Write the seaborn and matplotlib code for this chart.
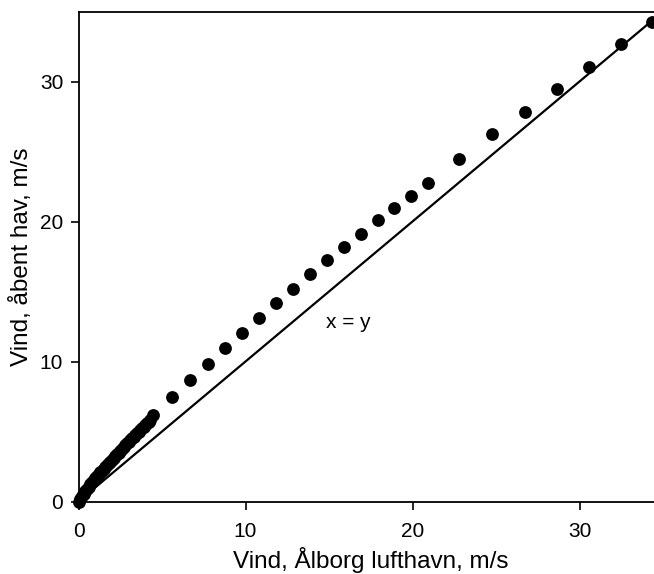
import matplotlib
matplotlib.use("Agg")
import matplotlib.pyplot as plt
import seaborn as sns
import pandas as pd

# Wind at Aalborg airport (x) vs open sea (y), m/s
wind_airport = [0.0, 0.1, 0.2, 0.3, 0.4, 0.5, 0.6, 0.7, 0.8, 0.9, 1.0, 1.1, 1.2, 1.3, 1.4,
                1.5, 1.6, 1.7, 1.8, 1.9, 2.0, 2.1, 2.2, 2.3, 2.4, 2.5, 2.6, 2.7, 2.8, 2.9,
                3.0, 3.1, 3.2, 3.3, 3.4, 3.5, 3.6, 3.7, 3.8, 3.9, 4.0, 4.1, 4.2, 4.3,
                4.46, 5.6, 6.68, 7.75, 8.77, 9.79, 10.81, 11.83, 12.84, 13.86, 14.88,
                15.90, 16.92, 17.93, 18.89, 19.91, 20.93, 22.78, 24.75, 26.73, 28.65,
                30.57, 32.48, 34.34]
wind_sea = [0.0, 0.2, 0.38, 0.55, 0.72, 0.89, 1.05, 1.22, 1.38, 1.55, 1.69, 1.82, 1.95, 2.08, 2.21,
            2.34, 2.47, 2.60, 2.73, 2.85, 2.98, 3.11, 3.24, 3.37, 3.50, 3.63, 3.76, 3.89, 4.02, 4.15,
            4.27, 4.39, 4.51, 4.63, 4.75, 4.87, 4.99, 5.11, 5.23, 5.35, 5.47, 5.59, 5.71, 5.83,
            6.18, 7.46, 8.68, 9.82, 10.96, 12.04, 13.1, 14.18, 15.18, 16.25, 17.25,
            18.18, 19.1, 20.1, 20.96, 21.82, 22.75, 24.46, 26.25, 27.82, 29.46,
            31.04, 32.68, 34.25]

line_x = [0, 36]
line_y = [0, 36]

x_ticks = [0, 10, 20, 30]
y_ticks = [0, 10, 20, 30]

sns.set_style("ticks")
plt.rcParams['font.family'] = ['Liberation Sans', 'DejaVu Sans']
plt.rcParams['text.color'] = 'black'
plt.rcParams['axes.labelcolor'] = 'black'
plt.rcParams['xtick.color'] = 'black'
plt.rcParams['ytick.color'] = 'black'

fig = plt.figure(figsize=(6.54, 5.74), dpi=100)
ax = fig.add_axes([78.5 / 654, 72.5 / 574, 584.5 / 654, 490 / 574])

df_pts = pd.DataFrame({"x": wind_airport, "y": wind_sea})
df_line = pd.DataFrame({"x": line_x, "y": line_y})

sns.lineplot(data=df_line, x="x", y="y", ax=ax, color="black", linewidth=1.6, zorder=2)
sns.scatterplot(data=df_pts, x="x", y="y", ax=ax, color="black", s=85, edgecolor="black",
                linewidth=0, zorder=3, clip_on=False)

ax.set_xlim(0, 35)
ax.set_ylim(0, 35)
ax.set_xticks(x_ticks)
ax.set_yticks(y_ticks)
ax.tick_params(direction="out", length=6, width=1.2, labelsize=15, colors="black")
ax.tick_params(axis="x", pad=9)
ax.tick_params(axis="y", pad=5)

ax.spines["right"].set_visible(False)
for s in ["left", "bottom", "top"]:
    ax.spines[s].set_linewidth(1.3)
    ax.spines[s].set_color("black")

ax.set_xlabel("Vind, Ålborg lufthavn, m/s", fontsize=17.5, labelpad=4)
ax.set_ylabel("Vind, åbent hav, m/s", fontsize=17.5, labelpad=5)

ax.text(14.85, 12.75, "x = y", fontsize=15, ha="left", va="center")

fig.savefig("out.png", dpi=100)
